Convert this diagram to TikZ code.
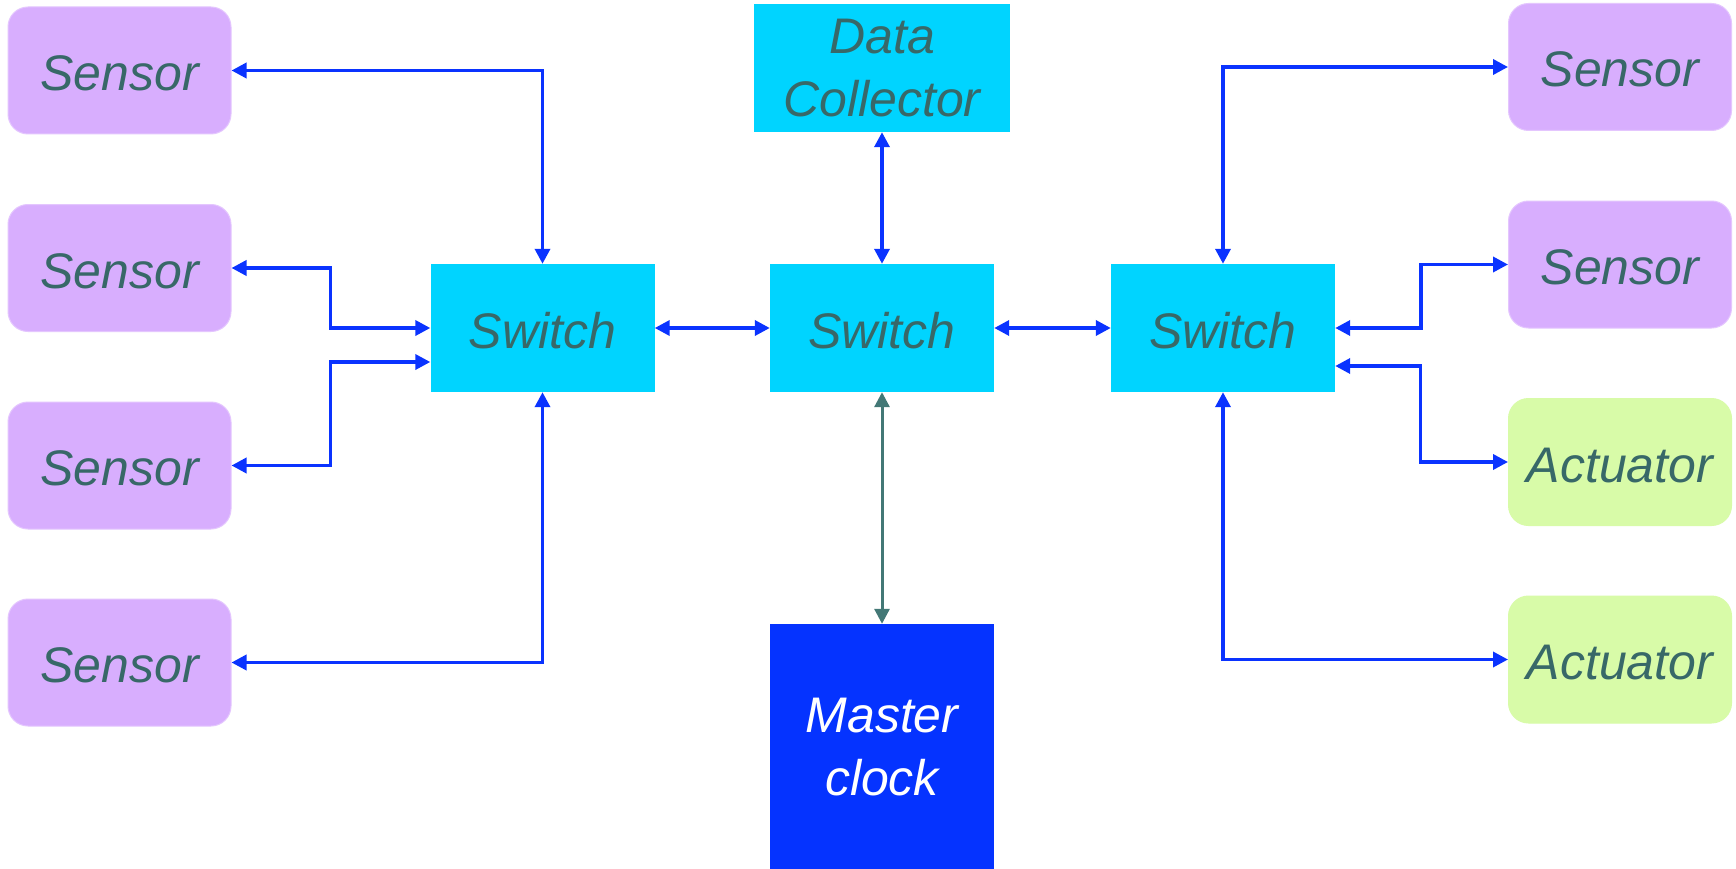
\documentclass[tikz,border=0pt]{standalone}
\usepackage{fontspec}
\setmainfont{Liberation Sans}
\usetikzlibrary{arrows.meta}
\definecolor{sensorc}{HTML}{D8AEFE}
\definecolor{actc}{HTML}{D8FBA8}
\definecolor{switchc}{HTML}{00D4FF}
\definecolor{clockc}{HTML}{0533FF}
\definecolor{linkc}{HTML}{0A33FF}
\definecolor{txtc}{HTML}{386868}
\definecolor{grayc}{HTML}{437876}
\begin{document}
\begin{tikzpicture}[x=1pt,y=-1pt,
  box/.style={inner sep=0pt, font=\fontsize{50}{63}\selectfont\itshape, text=txtc, align=center},
  oneline/.style={text height=40pt, text depth=0pt},
  sensorbox/.style={box, oneline, fill=sensorc, draw=sensorc!70!white, line width=1pt, rounded corners=20pt, minimum width=223pt, minimum height=127pt},
  actbox/.style={sensorbox, fill=actc, draw=actc},
  switchbox/.style={box, oneline, fill=switchc, minimum width=224pt, minimum height=128pt},
  link/.style={draw=linkc, line width=3.5pt, {Triangle[length=15pt,width=15pt]}-{Triangle[length=15pt,width=15pt]}},
  graylink/.style={draw=grayc, line width=3pt, {Triangle[length=15pt,width=15pt]}-{Triangle[length=15pt,width=15pt]}},
]
\useasboundingbox (0,0) rectangle (1736,869);
\fill[white] (0,0) rectangle (1736,869);

% left sensors
\node[sensorbox] (sL1) at (119.5,70.5) {Sensor};
\node[sensorbox] (sL2) at (119.5,268) {Sensor};
\node[sensorbox] (sL3) at (119.5,465.5) {Sensor};
\node[sensorbox] (sL4) at (119.5,662.5) {Sensor};

% switches
\node[switchbox] (swL) at (542.5,328) {Switch};
\node[switchbox] (swM) at (882,328) {Switch};
\node[switchbox] (swR) at (1223,328) {Switch};

% data collector and master clock
\node[box, fill=switchc, minimum width=256pt, minimum height=128pt] (dc) at (882,68) {Data\\Collector};
\node[box, fill=clockc, text=white, minimum width=224pt, minimum height=246pt] (mc) at (882,747) {Master\\clock};

% right side
\node[sensorbox] (sR1) at (1620,67) {Sensor};
\node[sensorbox] (sR2) at (1620,264.5) {Sensor};
\node[actbox] (a1) at (1620,462) {Actuator};
\node[actbox] (a2) at (1620,659.5) {Actuator};

% connectors left
\draw[link] (sL1.east) -| (swL.north);
\draw[link] (sL2.east) -- ++(99,0) |- (swL.west);
\draw[link] (sL3.east) -- ++(99,0) |- ([yshift=-34pt]swL.west);
\draw[link] (sL4.east) -| (swL.south);

% middle
\draw[link] (swL.east) -- (swM.west);
\draw[link] (swM.east) -- (swR.west);
\draw[link] (dc.south) -- (swM.north);
\draw[graylink] (swM.south) -- (mc.north);

% connectors right
\draw[link] (swR.north) |- (sR1.west);
\draw[link] (swR.east) -- ++(86,0) |- (sR2.west);
\draw[link] ([yshift=-38pt]swR.east) -- ++(85.5,0) |- (a1.west);
\draw[link] (swR.south) |- (a2.west);
\end{tikzpicture}
\end{document}
